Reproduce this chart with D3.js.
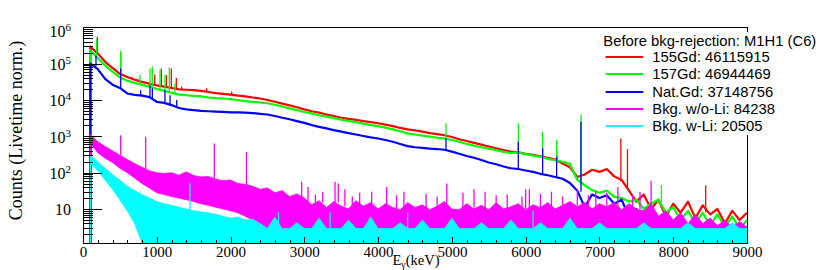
<!DOCTYPE html>
<html lang="en">
<head>
<meta charset="utf-8">
<script src="https://cdn.jsdelivr.net/npm/d3@7"></script>
<style>
    body { margin: 0; background: white; }
    svg { display: block; }
    .frame { fill: none; stroke: black; stroke-width: 1px; shape-rendering: crispEdges; }
    .axis path { display: none; }
    .axis line { stroke: black; stroke-width: 1px; shape-rendering: crispEdges; }
    .axis text, .ylab, .atitle { font-family: "Liberation Serif", "Times New Roman", serif; fill: black; }
    .axis text { font-size: 15px; }
    .ylab { font-size: 16px; }
    .legend text { font-family: "Liberation Sans", Arial, sans-serif; font-size: 14.8px; fill: black; }
    .spec { fill: none; stroke-width: 2.2px; stroke-linejoin: round; }
    .spike { stroke-width: 1.3px; }
</style>
</head>
<body>
<script>
    // energy bins (keV), 100 keV wide
    const energy = d3.range(100, 9001, 100);

    const seriesNames = ['155Gd: 46115915', '157Gd: 46944469', 'Nat.Gd: 37148756',
        'Bkg. w/o-Li: 84238', 'Bkg. w-Li: 20505'];
    const colors = ['#ff0000', '#00ff00', '#0000ff', '#ff00ff', '#00ffff'];

    // counts (livetime norm.) per bin
    const gd155 = [295000, 190000, 112000, 76000, 52500, 42700, 36300, 31600, 28200, 25100,
        23400, 21400, 19500, 19100, 18600, 17800, 16600, 15500, 14800, 14100,
        13200, 12600, 11700, 11000, 10000, 8910, 7940, 7080, 6310, 5500,
        4900, 4470, 3980, 3630, 3240, 3020, 2820, 2630, 2450, 2290,
        2090, 1910, 1700, 1550, 1450, 1350, 1230, 1150, 1070, 955,
        832, 741, 661, 589, 525, 468, 417, 380, 363, 331,
        309, 282, 257, 229, 178, 141, 76, 89, 120, 105,
        126, 79, 63, 32, 16, 25, 10, 18, 6.3, 14,
        7.9, 16, 5.6, 12.6, 7.1, 10, 4, 8.9, 5, 7.9];
    const gd157 = [234000, 141000, 89100, 60300, 41700, 33900, 29500, 26300, 23400, 20000,
        17800, 15800, 14100, 13500, 12900, 12600, 11700, 11200, 11000, 10500,
        10000, 9330, 8910, 8510, 8130, 7410, 6610, 5890, 5250, 4680,
        4270, 3800, 3470, 3160, 2880, 2630, 2450, 2240, 2040, 1910,
        1740, 1550, 1380, 1200, 1120, 1050, 977, 912, 871, 794,
        708, 617, 550, 501, 457, 417, 372, 347, 363, 324,
        295, 275, 240, 219, 200, 174, 63, 45, 33, 28,
        32, 22, 20, 16, 18, 10, 14, 18, 7.9, 11.2,
        5, 8.9, 4, 7.9, 3.5, 7.1, 3.2, 6.3, 2.8, 5];
    const natGd = [100000, 70800, 38000, 26300, 21400, 15100, 13800, 13200, 12000, 8910,
        8320, 7240, 6030, 5500, 5250, 5010, 4900, 4790, 4680, 4570,
        4570, 4470, 4370, 4170, 3980, 3630, 3240, 2950, 2630, 2340,
        2040, 1820, 1660, 1480, 1350, 1230, 1120, 1020, 933, 871,
        794, 708, 617, 537, 501, 479, 457, 447, 427, 380,
        331, 288, 257, 224, 191, 170, 148, 132, 126, 115,
        105, 93, 85, 76, 68, 52, 32, 11.2, 25, 20,
        24, 14, 18, 6.3, 10, 3.2, 6.3, 2, 5, 1.6,
        4, 0, 3.5, 0, 3.2, 0, 2.8, 0, 2.5, 0];

    // background runs are noise-dominated: upper / lower edge of the band
    const bkgNoLiHigh = [1120, 708, 525, 398, 302, 229, 178, 141, 112, 100,
        95, 100, 85, 105, 83, 76, 79, 66, 60, 63,
        50, 48, 42, 35, 38, 28, 32, 22, 26, 20,
        13, 17, 11, 16, 12, 10, 17, 12, 15, 10,
        14, 11, 9.5, 15, 11, 13, 9.5, 12, 16, 10,
        9.5, 14, 10, 12.6, 9.5, 15, 10, 11.5, 14, 9.5,
        13, 11, 15, 10, 12.6, 16, 11.5, 15, 10, 14,
        11.5, 15, 9.5, 14, 10, 8.9, 14, 6.3, 8.9, 5,
        7.9, 4, 7.1, 4, 5.6, 3.5, 5, 3.2, 4.5, 3.2];
    const bkgNoLiLow = [631, 355, 251, 191, 132, 100, 71, 50, 38, 28,
        25, 22, 20, 18, 16, 14, 12.6, 11.2, 10, 8.9,
        7.9, 6.3, 5, 3.5, 0, 0, 0, 0, 0, 0,
        0, 0, 0, 0, 0, 0, 0, 0, 0, 0,
        0, 0, 0, 0, 0, 0, 0, 0, 0, 0,
        0, 0, 0, 0, 0, 0, 0, 0, 0, 0,
        0, 0, 0, 0, 0, 0, 0, 0, 0, 0,
        0, 0, 0, 0, 0, 0, 0, 0, 0, 0,
        0, 0, 0, 0, 0, 0, 0, 0, 0, 0];
    const bkgLiHigh = [302, 200, 132, 89, 63, 42, 32, 25, 20, 16,
        14, 12.6, 11.2, 10, 8.9, 8.3, 7.9, 7.1, 6.3, 5.6,
        6, 5, 5.2, 4, 2.9, 6, 2.9, 2.9, 4.2, 2.9,
        2.9, 5.6, 2.9, 2.9, 2.9, 5, 2.9, 2.9, 6, 2.9,
        2.9, 2.9, 4.2, 2.9, 2.9, 5, 2.9, 2.9, 2.9, 5.6,
        2.9, 2.9, 2.9, 4.2, 2.9, 2.9, 2.9, 5, 2.9, 2.9,
        2.9, 4.2, 2.9, 2.9, 2.9, 5.6, 2.9, 2.9, 2.9, 4.2,
        2.9, 2.9, 2.9, 2.9, 2.9, 4.2, 2.9, 2.9, 2.9, 2.9,
        2.9, 4.2, 2.9, 2.9, 2.9, 2.9, 2.9, 4.2, 2.9, 2.9];
    const bkgLiLow = [178, 112, 63, 35, 18, 8.9, 4, 0, 0, 0,
        0, 0, 0, 0, 0, 0, 0, 0, 0, 0,
        0, 0, 0, 0, 0, 0, 0, 0, 0, 0,
        0, 0, 0, 0, 0, 0, 0, 0, 0, 0,
        0, 0, 0, 0, 0, 0, 0, 0, 0, 0,
        0, 0, 0, 0, 0, 0, 0, 0, 0, 0,
        0, 0, 0, 0, 0, 0, 0, 0, 0, 0,
        0, 0, 0, 0, 0, 0, 0, 0, 0, 0,
        0, 0, 0, 0, 0, 0, 0, 0, 0, 0];

    // gamma lines: [energy, top, foot]
    const gd155Peaks = [[195, 550000, 200000], [511, 200000, 52000], [972, 50000, 26000],
        [1062, 74000, 24000], [1130, 49000, 22500], [1197, 74000, 21500], [1265, 40000, 20000],
        [1337, 23000, 19300], [1676, 21000, 16800], [2015, 17000, 14000], [6420, 400, 225],
        [7290, 870, 58], [7380, 450, 38], [8440, 45, 8]];
    const gd157Peaks = [[185, 480000, 150000], [511, 224000, 41000], [772, 49000, 27000],
        [908, 74000, 23000], [940, 83000, 22000], [1044, 66000, 19000], [1111, 49000, 17500],
        [1170, 78000, 16500], [1247, 29000, 15000], [4920, 2290, 870], [5900, 2290, 360],
        [6230, 1320, 270], [6420, 790, 215], [6750, 3900, 55], [7840, 46, 15]];
    const natGdPeaks = [[176, 166000, 85000], [511, 74000, 21000], [781, 18600, 13300],
        [908, 25700, 12000], [940, 20900, 11000], [1111, 18600, 8300], [1180, 13500, 7500],
        [1270, 10000, 6300], [4920, 870, 425], [5900, 710, 126], [6230, 468, 90],
        [6420, 280, 76], [6750, 2500, 30]];
    const bkgNoLiPeaks = [[511, 1070, 300], [850, 977, 120], [1780, 631, 60], [2215, 372, 45],
        [2964, 56, 20], [3050, 40, 15], [3150, 25, 10], [3250, 30, 15], [3416, 56, 15],
        [3460, 50, 15], [3550, 35, 12], [3650, 22, 10], [3750, 28, 12], [3913, 30, 12],
        [4116, 40, 12], [4250, 24, 10], [4350, 30, 10], [4650, 26, 10], [4800, 22, 10],
        [4930, 50, 12], [5150, 28, 10], [5300, 35, 11], [5450, 30, 10], [5600, 24, 10],
        [5750, 25, 10], [5950, 22, 10], [6000, 35, 10], [6050, 35, 10], [6200, 26, 10],
        [6350, 30, 10], [6500, 22, 10], [6700, 35, 12], [6850, 24, 10], [6950, 32, 10],
        [7100, 28, 10], [7250, 40, 12], [7450, 25, 10], [7550, 30, 10], [7700, 60, 12]];
    const bkgLiPeaks = [[1450, 51, 8], [2650, 8, 3], [3350, 8, 3], [4400, 8, 3], [6100, 9, 3]];

    const yMin = 1.16;
    const W = 830, H = 270;
    const svg = d3.select('body').append('svg').attr('width', W).attr('height', H);

    const x = d3.scaleLinear().domain([0, 9000]).range([83, 747]);
    const y = d3.scaleLog().domain([yMin, 1e6]).range([243, 27.3]).clamp(true);
    const yv = v => y(Math.max(v, yMin));

    svg.append('clipPath').attr('id', 'plotArea').append('rect')
        .attr('x', 83).attr('y', 27.3).attr('width', 664).attr('height', 215.7);

    svg.append('rect').attr('class', 'frame')
        .attr('x', 83).attr('y', 27).attr('width', 664).attr('height', 216);

    const plot = svg.append('g').attr('clip-path', 'url(#plotArea)');

    const line = d3.line().x(d => x(d[0])).y(d => yv(d[1]));
    const band = d3.area()
        .x(d => x(d[0])).y0(d => yv(d[2])).y1(d => yv(d[1]));

    function drawPeaks(peaks, color) {
        plot.append('g').selectAll('line').data(peaks).enter().append('line')
            .attr('class', 'spike').attr('stroke', color)
            .attr('x1', d => x(d[0])).attr('x2', d => x(d[0]))
            .attr('y1', d => yv(d[2])).attr('y2', d => yv(d[1]));
    }

    [[gd155, gd155Peaks], [gd157, gd157Peaks], [natGd, natGdPeaks]].forEach(function (s, i) {
        let pts = [[energy[0], yMin]].concat(energy.map((e, j) => [e, s[0][j]]));
        plot.append('path').attr('class', 'spec').attr('stroke', colors[i]).attr('d', line(pts));
        drawPeaks(s[1], colors[i]);
    });

    [[bkgNoLiHigh, bkgNoLiLow, bkgNoLiPeaks], [bkgLiHigh, bkgLiLow, bkgLiPeaks]].forEach(function (s, k) {
        let pts = energy.map((e, j) => [e, s[0][j], s[1][j]]);
        plot.append('path').attr('fill', colors[3 + k]).attr('stroke', colors[3 + k])
            .attr('stroke-width', 0.8).attr('stroke-linejoin', 'round').attr('d', band(pts));
        plot.append('line').attr('stroke', colors[3 + k]).attr('stroke-width', 1.3)
            .attr('x1', x(energy[0])).attr('x2', x(energy[0]))
            .attr('y1', yv(yMin)).attr('y2', yv(s[0][0]));
        drawPeaks(s[2], colors[3 + k]);
    });

    // legend (covers the right frame edge like in ROOT)
    const legend = svg.append('g').attr('class', 'legend');
    legend.append('rect').attr('x', 598).attr('y', 32).attr('width', 232).attr('height', 103)
        .attr('fill', 'white');
    legend.append('text').attr('x', 603.3).attr('y', 45.7).text('Before bkg-rejection: M1H1 (C6)');
    seriesNames.forEach(function (name, i) {
        let by = 62.3 + i * 17.1;
        let ly = Math.round(by - 5);
        legend.append('line').attr('x1', 605.7).attr('x2', 643.3)
            .attr('y1', ly).attr('y2', ly)
            .attr('stroke', colors[i]).attr('stroke-width', 2);
        legend.append('text').attr('x', 652.3).attr('y', by).text(name);
    });

    // x axis
    svg.append('g').attr('class', 'axis').attr('transform', 'translate(0,243)')
        .call(d3.axisBottom(x).tickValues(d3.range(0, 9001, 200)).tickSize(-3.3).tickFormat(''));
    svg.append('g').attr('class', 'axis').attr('transform', 'translate(0,243)')
        .call(d3.axisBottom(x).tickValues(d3.range(0, 9001, 1000)).tickSize(-6.5).tickPadding(3.4)
            .tickFormat(d3.format('d')));

    // y axis (log): decades + 2..9 minors
    const decades = [10, 100, 1000, 1e4, 1e5, 1e6];
    const minors = [];
    [1, 10, 100, 1000, 1e4, 1e5].forEach(function (p) {
        for (let m = 2; m <= 9; m++) if (m * p > yMin) minors.push(m * p);
    });
    svg.append('g').attr('class', 'axis').attr('transform', 'translate(83,0)')
        .call(d3.axisLeft(y).tickValues(minors).tickSize(-10).tickFormat(''));
    svg.append('g').attr('class', 'axis').attr('transform', 'translate(83,0)')
        .call(d3.axisLeft(y).tickValues(decades).tickSize(-19).tickFormat(''));

    decades.forEach(function (v) {
        let e = Math.round(Math.log10(v));
        let t = svg.append('text').attr('class', 'ylab').attr('text-anchor', 'end')
            .attr('x', 71).attr('y', Math.max(y(v) + 6.4, 37.3));
        t.append('tspan').text('10');
        if (e > 1) t.append('tspan').attr('dy', -6).attr('font-size', '11px').text(e);
    });

    // axis titles
    const xt = svg.append('text').attr('class', 'atitle').attr('x', 416).attr('y', 265)
        .attr('text-anchor', 'middle').attr('font-size', '14.5px');
    xt.append('tspan').text('E');
    xt.append('tspan').attr('font-size', '10px').attr('dy', 3).text('γ');
    xt.append('tspan').attr('dy', -3).text('(keV)');

    svg.append('text').attr('class', 'atitle').attr('font-size', '18px')
        .attr('text-anchor', 'middle')
        .attr('transform', 'translate(22,130.5) rotate(-90)')
        .text('Counts (Livetime norm.)');
</script>
</body>
</html>
